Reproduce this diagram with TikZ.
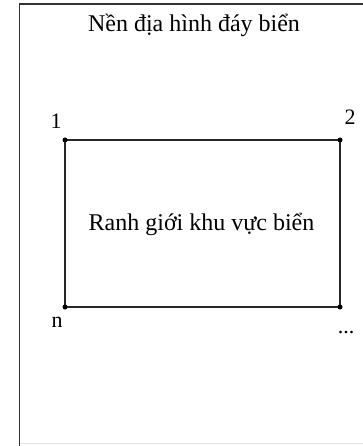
\documentclass[tikz,border=0pt]{standalone}
\usepackage{fontspec}
\setmainfont{Liberation Serif}
\begin{document}
\begin{tikzpicture}[x=1pt,y=-1pt,
  lbl/.style={font=\fontsize{22}{26}\selectfont, inner sep=0pt},
  txt/.style={font=\fontsize{24}{28}\selectfont, inner sep=0pt},
  vtx/.style={circle, fill=black, inner sep=0pt, minimum size=5pt}]
\useasboundingbox (0,0) rectangle (363,446);
\begin{scope}
\clip (0,0) rectangle (363,446);
\draw[line width=1.8pt, black!80] (19.5,448) -- (19.5,4) -- (370,4);
\draw[line width=1pt, black!12] (19.5,443.5) -- (370,443.5);
\end{scope}
\node[txt] (title) at (194,25) {Nền địa hình đáy biển};
\coordinate (c1) at (65,140);
\coordinate (c2) at (340,140);
\coordinate (c3) at (340,307);
\coordinate (cn) at (65,307);
\draw[line width=1.2pt, black!85] (c1) -- (c2) -- (c3) -- (cn) -- cycle;
\node[vtx] (v1) at (c1) {};
\node[vtx] (v2) at (c2) {};
\node[vtx] (v3) at (c3) {};
\node[vtx] (vn) at (cn) {};
\node[txt] (center) at (201.5,224) {Ranh giới khu vực biển};
\node[lbl] (l1) at (56,121) {1};
\node[lbl] (l2) at (350,117) {2};
\node[lbl] (ln) at (57,322) {n};
\node[lbl] (ld) at (346,333) {...};
\end{tikzpicture}
\end{document}
